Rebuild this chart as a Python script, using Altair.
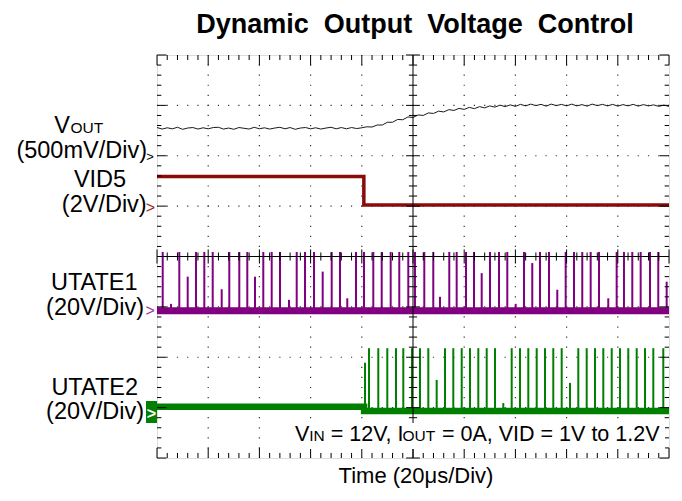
import altair as alt
import pandas as pd

FONT = "Liberation Sans, Arial, sans-serif"

# ---- data (time in microseconds, 20 us/div; vertical position in screen divisions 0..8) ----
vout_t = list(range(0, 201, 2))
vout_v = [6.56, 6.53, 6.555, 6.535, 6.565, 6.525, 6.55, 6.56, 6.53, 6.555,
          6.535, 6.56, 6.565, 6.53, 6.55, 6.525, 6.56, 6.545, 6.53, 6.565,
          6.535, 6.555, 6.53, 6.55, 6.565, 6.535, 6.56, 6.525, 6.55, 6.56,
          6.535, 6.555, 6.53, 6.55, 6.565, 6.535, 6.56, 6.535, 6.56, 6.54,
          6.555,
          6.575, 6.57, 6.61, 6.61, 6.665, 6.665, 6.72, 6.715, 6.77, 6.76,
          6.81, 6.8, 6.85, 6.84, 6.885, 6.87, 6.915, 6.9, 6.94, 6.92,
          6.96, 6.935, 6.975, 6.95, 6.99, 6.965, 7.005, 6.975, 7.01, 6.98,
          7.02, 6.99, 7.025, 6.995, 7.02, 6.985, 7.025, 6.995, 7.02, 6.99,
          7.025, 6.99, 7.015, 6.985, 7.025, 6.995, 7.02, 6.99, 7.02, 6.985,
          7.015, 6.99, 7.02, 6.985, 7.015, 6.99, 7.01, 6.98, 7.005, 6.98]

vid5_t = [0, 80.8, 80.8, 200]
vid5_v = [5.59, 5.59, 5.02, 5.02]

ut1_base_t = [0, 200]
ut1_base_v = [2.925, 2.925]
ut1_pulse_t = [2.23, 5.47, 8.71, 11.99, 15.23, 18.48, 21.76, 25.27, 28.24, 32.15,
               35.27, 38.28, 41.52, 44.80, 48.04, 51.56, 54.57, 57.81, 61.32, 64.72,
               68.24, 71.48, 74.33, 77.73, 80.85, 84.49, 87.77, 91.28, 94.64, 98.16,
               100.77, 104.41, 107.92, 110.54, 114.17, 117.06, 120.70, 123.82, 126.83, 130.07,
               133.59, 136.83, 140.11, 143.35, 146.59, 149.60, 153.12, 156.36, 159.64, 162.88,
               166.12, 169.40, 172.65, 176.28, 179.56, 182.41, 185.66, 188.93, 192.57, 195.81,
               199.09]
ut1_pulse_top = [4.09, 3.06, 4.09, 3.60, 4.09, 4.09, 4.09, 3.35, 4.09, 4.09,
                 4.09, 3.60, 4.09, 4.09, 4.09, 3.14, 4.09, 4.09, 4.09, 3.70,
                 4.09, 4.09, 3.17, 4.09, 4.09, 4.09, 4.09, 4.09, 4.09, 4.09,
                 4.09, 4.09, 4.09, 3.20, 4.09, 4.09, 4.09, 4.09, 3.67, 4.09,
                 4.09, 4.09, 3.06, 4.09, 3.87, 4.09, 4.09, 3.34, 4.09, 4.09,
                 4.09, 4.09, 4.09, 3.17, 4.09, 4.09, 4.09, 4.09, 4.09, 4.09,
                 3.50]

ut2_base_t = [0, 80.9, 80.9, 200]
ut2_base_v = [1.018, 1.018, 0.933, 0.933]
ut2_pulse_t = [81.25, 82.81, 86.44, 89.96, 93.36, 96.21, 99.61, 102.73, 105.98, 109.25,
               112.50, 115.74, 119.02, 122.27, 125.51, 128.79, 132.03, 135.27, 138.55, 141.80,
               145.04, 148.32, 151.56, 154.80, 158.08, 161.33, 164.57, 167.85, 171.09, 174.34,
               177.62, 180.86, 184.10, 187.38, 190.63, 193.87, 197.77]
ut2_pulse_top = [1.89, 2.18, 2.18, 2.18, 2.18, 2.18, 2.18, 2.18, 2.18, 1.55,
                 2.18, 2.18, 2.18, 2.18, 2.18, 2.18, 2.18, 1.09, 2.18, 2.18,
                 2.18, 2.18, 2.18, 2.18, 2.18, 1.49, 2.18, 2.18, 2.18, 2.18,
                 2.18, 2.18, 2.18, 2.18, 2.18, 2.18, 2.18]

# ---- scales ----
W, H = 512, 403
xs = alt.Scale(domain=[0, 200], nice=False, zero=False)
ys = alt.Scale(domain=[0, 8], nice=False, zero=False)
X = lambda f: alt.X(f, scale=xs, axis=None)
Y = lambda f: alt.Y(f, scale=ys, axis=None)

layers = []

# dotted graticule
gx = [20, 40, 60, 80, 120, 140, 160, 180]
gy = [1, 2, 3, 5, 6, 7]
my, mx = H / 40.0, W / 50.0
layers.append(alt.Chart(pd.DataFrame({"t": gx})).mark_rule(
    color="#333", strokeWidth=1.2, strokeDash=[1.2, my - 1.2], strokeDashOffset=0.6
).encode(x=X("t:Q")))
layers.append(alt.Chart(pd.DataFrame({"v": gy})).mark_rule(
    color="#333", strokeWidth=1.2, strokeDash=[1.2, mx - 1.2], strokeDashOffset=0.6
).encode(y=Y("v:Q")))

# traces
def line_df(t, v):
    return pd.DataFrame({"t": t, "v": v, "i": list(range(len(t)))})

layers.append(alt.Chart(line_df(vout_t, vout_v)).mark_line(
    color="#1a1a1a", strokeWidth=1, clip=True
).encode(x=X("t:Q"), y=Y("v:Q"), order="i:Q"))

layers.append(alt.Chart(line_df(vid5_t, vid5_v)).mark_line(
    color="#8b0a0a", strokeWidth=3.5, clip=True, strokeCap="butt"
).encode(x=X("t:Q"), y=Y("v:Q"), order="i:Q"))

layers.append(alt.Chart(line_df(ut1_base_t, ut1_base_v)).mark_line(
    color="#800080", strokeWidth=7, clip=True, strokeCap="butt"
).encode(x=X("t:Q"), y=Y("v:Q"), order="i:Q"))
layers.append(alt.Chart(pd.DataFrame({"t": ut1_pulse_t, "top": ut1_pulse_top})).mark_rule(
    color="#800080", strokeWidth=2, clip=True
).encode(x=X("t:Q"), y=Y("top:Q"), y2=alt.datum(2.86)))

layers.append(alt.Chart(line_df(ut2_base_t, ut2_base_v)).mark_line(
    color="#007f00", strokeWidth=6.5, clip=True, strokeCap="butt"
).encode(x=X("t:Q"), y=Y("v:Q"), order="i:Q"))
layers.append(alt.Chart(pd.DataFrame({"t": ut2_pulse_t, "top": ut2_pulse_top})).mark_rule(
    color="#007f00", strokeWidth=2, clip=True
).encode(x=X("t:Q"), y=Y("top:Q"), y2=alt.datum(0.9)))

# center axes and border ticks
rows = [(100, 100, 0, 8), (0, 200, 4, 4)]
for i in range(51):
    t = i * 4
    major = i % 5 == 0
    L = 0.2 if major else 0.1
    rows.append((t, t, 8, 8 - L))
    rows.append((t, t, 0, L))
    c = 0.14 if major else 0.08
    rows.append((t, t, 4 - c, 4 + c))
for j in range(41):
    v = j * 0.2
    major = j % 5 == 0
    L = 3.7 if major else 1.7
    rows.append((0, L, v, v))
    rows.append((200 - L, 200, v, v))
    c = 2.7 if major else 1.6
    rows.append((100 - c, 100 + c, v, v))
tick_df = pd.DataFrame(rows, columns=["x", "x2", "y", "y2"])
layers.append(alt.Chart(tick_df).mark_rule(color="black", strokeWidth=1).encode(
    x=X("x:Q"), x2="x2:Q", y=Y("y:Q"), y2="y2:Q"))

# annotation background
one = pd.DataFrame({"d": [0]})
layers.append(alt.Chart(one).mark_rect(color="white").encode(
    x=alt.value(131), x2=alt.value(508), y=alt.value(368), y2=alt.value(394)))

def txt(s, x, y, size, align="left", weight="normal", color="black"):
    return alt.Chart(one).mark_text(
        text=s, align=align, baseline="alphabetic", fontSize=size,
        fontWeight=weight, color=color, font=FONT
    ).encode(x=alt.value(x), y=alt.value(y))

# title and x label
layers.append(txt("Dynamic\u00a0\u00a0Output\u00a0\u00a0Voltage\u00a0\u00a0Control", 258, -22, 27, "center", "bold"))
layers.append(txt("Time (20\u03bcs/Div)", 259, 428, 22, "center"))

# channel labels
LS = 23.5
layers.append(txt("V", -87, 78.3, LS, "right"))
layers.append(txt("OUT", -86.5, 78.3, 15.5, "left"))
layers.append(txt("(500mV/Div)", -10, 103.3, LS, "right"))
layers.append(txt(">", -7, 105.5, 13, "center"))
layers.append(txt("VID5", -57, 132.3, LS, "center"))
layers.append(txt("(2V/Div)", -10.3, 156.7, LS, "right"))
layers.append(txt(">", -6.5, 158, 16, "center", color="#a01818"))
layers.append(txt("UTATE1", -62.7, 235, LS, "center"))
layers.append(txt("(20V/Div)", -13, 260, LS, "right"))
layers.append(txt(">", -6.8, 260.5, 16, "center", color="#9a309a"))
layers.append(txt("UTATE2", -62.3, 340, LS, "center"))
layers.append(txt("(20V/Div)", -13, 364.3, LS, "right"))
layers.append(alt.Chart(one).mark_rect(color="#007f00").encode(
    x=alt.value(-11), x2=alt.value(0), y=alt.value(346), y2=alt.value(368)))
layers.append(txt(">", -5.5, 363.5, 16, "center", "bold", "white"))

# annotation
AS, SS = 21.5, 15.5
layers.append(txt("V", 138, 386, AS))
layers.append(txt("IN", 152.3, 386, SS))
layers.append(txt("= 12V, I", 173.8, 386, AS))
layers.append(txt("OUT", 245.5, 386, SS))
layers.append(txt("= 0A, VID = 1V to 1.2V", 285, 386, AS))

chart = alt.layer(*layers).properties(
    width=W, height=H,
    autosize=alt.AutoSizeParams(type="none"),
    padding={"left": 149, "top": 47, "right": 4, "bottom": 34},
).configure_view(stroke="black", strokeWidth=1.2).configure(background="white")

chart.save("out.html", embed_options={"renderer": "svg", "actions": False})
